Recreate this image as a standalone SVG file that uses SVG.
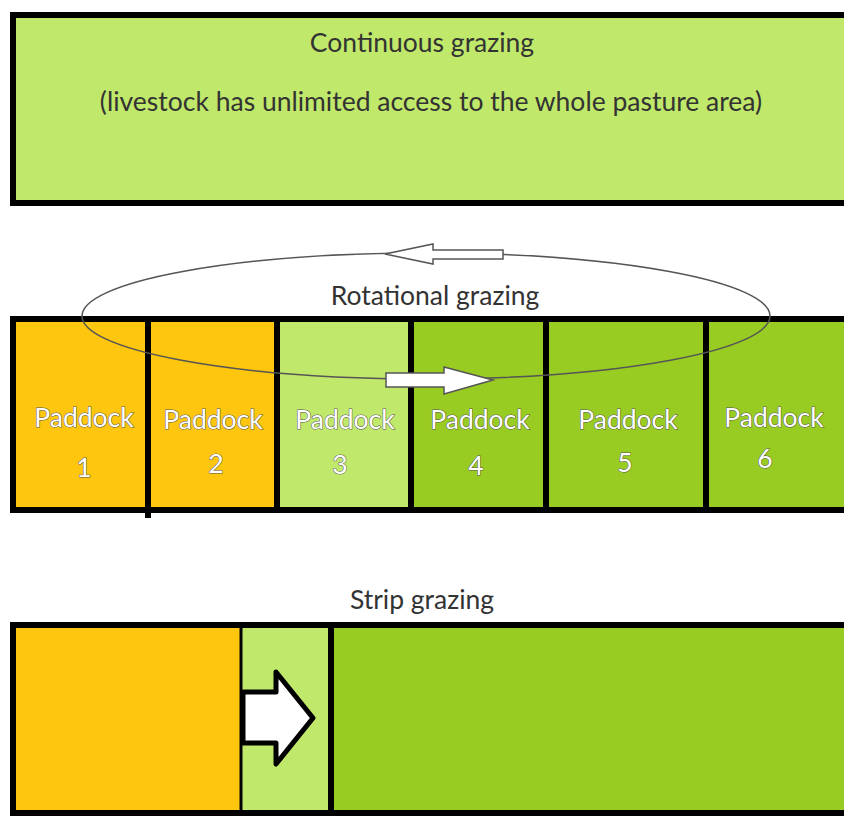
<svg xmlns="http://www.w3.org/2000/svg" width="844" height="816" viewBox="0 0 844 816">
<style>
.box{stroke:#000;stroke-width:6}
.lt{fill:#C0E86A}.or{fill:#FFC60F}.dk{fill:#99CC22}
.t{font-family:Lato,"Open Sans",sans-serif;font-size:26.5px;fill:#333;text-anchor:middle}
.p{font-family:Lato,"Open Sans",sans-serif;font-size:26.5px;fill:#fff;stroke:#555;stroke-width:1;paint-order:stroke;text-anchor:middle}
.div{stroke:#000;stroke-width:6}
.ar{fill:#fff;stroke:#555;stroke-width:1.5}
</style>
<rect width="844" height="816" fill="#fff"/>
<g id="continuous">
<rect x="13" y="15" width="840" height="188" class="box lt"/>
<text x="422" y="52" class="t">Continuous grazing</text>
<text x="431" y="111" class="t">(livestock has unlimited access to the whole pasture area)</text>
</g>
<g id="rotational">
<rect x="13" y="319" width="840" height="191" class="box dk"/>
<rect x="16" y="322" width="132" height="185" class="or"/>
<rect x="148" y="322" width="129" height="185" class="or"/>
<rect x="277" y="322" width="134" height="185" class="lt"/>
<line x1="148" y1="319" x2="148" y2="518" class="div"/>
<line x1="277" y1="319" x2="277" y2="510" class="div"/>
<line x1="411" y1="319" x2="411" y2="510" class="div"/>
<line x1="546" y1="319" x2="546" y2="510" class="div"/>
<line x1="706" y1="319" x2="706" y2="510" class="div"/>
<text x="435" y="305" class="t">Rotational grazing</text>
</g>
<g id="paddock1"><text x="84" y="427" class="p">Paddock</text><text x="84" y="477" class="p">1</text></g>
<g id="paddock2"><text x="213" y="429" class="p">Paddock</text><text x="216" y="473" class="p">2</text></g>
<g id="paddock3"><text x="345" y="429" class="p">Paddock</text><text x="340" y="474" class="p">3</text></g>
<g id="paddock4"><text x="480" y="429" class="p">Paddock</text><text x="476" y="475" class="p">4</text></g>
<g id="paddock5"><text x="628" y="429" class="p">Paddock</text><text x="625" y="472" class="p">5</text></g>
<g id="paddock6"><text x="774" y="427" class="p">Paddock</text><text x="765" y="468" class="p">6</text></g>
<g id="connectors">
<ellipse cx="426" cy="316" rx="344" ry="63" fill="none" stroke="#555" stroke-width="1.5"/>
<path d="M385,254 L433,244 L433,250 L503,250 L503,259 L433,259 L433,264 Z" class="ar"/>
<path d="M493,380 L444,367 L444,373 L386,373 L386,387 L444,387 L444,394 Z" class="ar"/>
</g>
<g id="strip">
<text x="422" y="609" class="t">Strip grazing</text>
<rect x="13" y="625" width="840" height="188" class="box dk"/>
<rect x="16" y="628" width="225" height="182" class="or"/>
<rect x="241" y="628" width="90" height="182" class="lt"/>
<line x1="241" y1="628" x2="241" y2="813" stroke="#000" stroke-width="3"/>
<line x1="331" y1="625" x2="331" y2="813" class="div"/>
<path d="M243,692 L276,692 L276,672 L313,718 L276,764 L276,743 L243,743 Z" fill="#fff" stroke="#000" stroke-width="5" stroke-linejoin="round"/>
</g>
</svg>
